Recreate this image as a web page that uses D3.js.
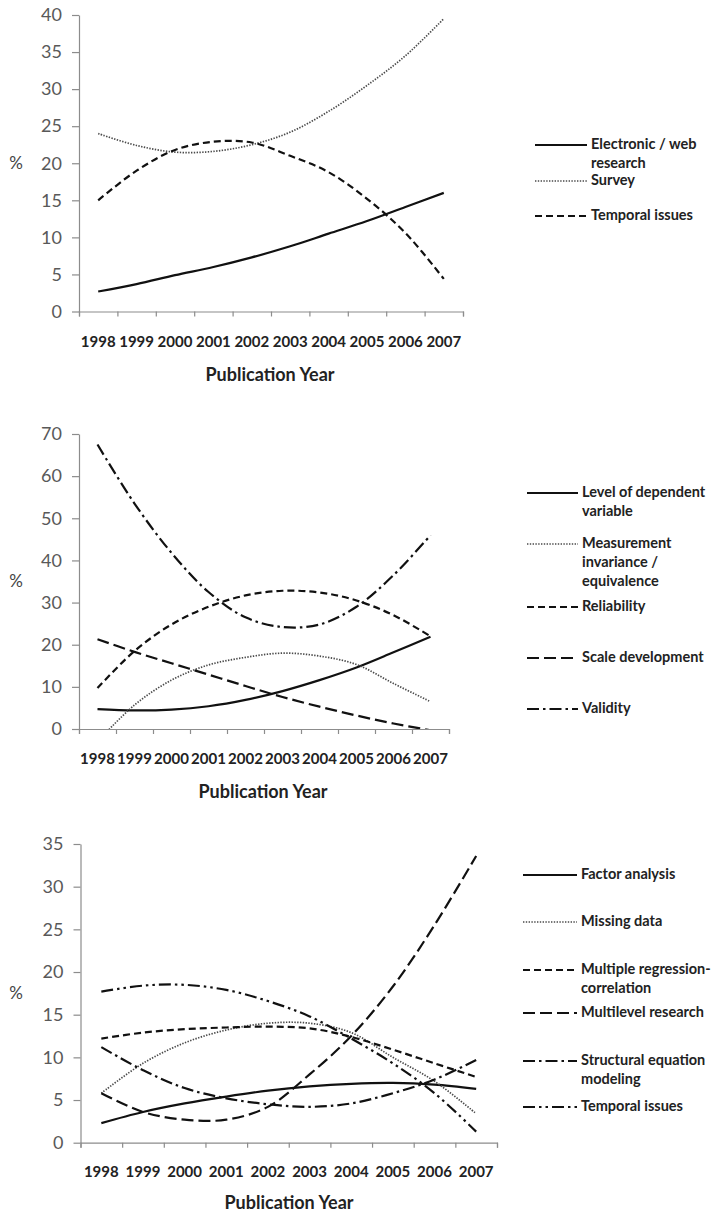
<!DOCTYPE html>
<html><head><meta charset="utf-8">
<script src="https://cdn.jsdelivr.net/npm/d3@7"></script>
<style>
body{margin:0;background:#fff;}
.ytick text{font-family:Lato,"Open Sans",sans-serif;font-size:18px;fill:#595959;}
.xlab text{font-family:Lato,"Noto Sans",sans-serif;font-weight:bold;font-size:15px;fill:#222;}
.leg{font-family:Lato,"Noto Sans",sans-serif;font-weight:bold;font-size:14.5px;fill:#222;}
.ttl{font-family:Lato,"Noto Sans",sans-serif;font-weight:bold;font-size:18px;fill:#222;}
.pct{font-family:Lato,"Open Sans",sans-serif;font-size:17px;fill:#444;}
</style></head>
<body>
<script>
const years = ["1998","1999","2000","2001","2002","2003","2004","2005","2006","2007"];

// Chart 1
const c1Names = ["Electronic / web\nresearch","Survey","Temporal issues"];
const c1Electronic = [2.7,3.7,4.9,6.0,7.3,8.8,10.5,12.2,14.1,16.0];
const c1Survey     = [24.0,22.4,21.5,21.6,22.5,24.2,27.0,30.5,34.5,39.5];
const c1Temporal   = [15.0,19.0,21.8,22.9,22.8,21.0,18.8,15.2,10.6,4.4];
const c1Ticks = [0,5,10,15,20,25,30,35,40];

// Chart 2
const c2Names = ["Level of dependent\nvariable","Measurement\ninvariance /\nequivalence","Reliability","Scale development","Validity"];
const c2Level       = [4.7,4.4,4.6,5.4,6.9,9.0,11.6,14.6,18.2,21.9];
const c2Measurement = [-3.0,5.7,11.6,15.2,17.0,18.0,17.3,15.3,10.8,6.5];
const c2Reliability = [9.7,18.5,24.8,29.0,31.7,32.8,32.4,30.5,27.0,22.0];
const c2Scale       = [21.3,18.3,15.6,12.9,10.2,7.6,5.3,3.2,1.3,-0.3];
const c2Validity    = [67.5,53.5,41.8,32.5,26.5,24.2,24.8,29.0,36.5,46.0];
const c2Ticks = [0,10,20,30,40,50,60,70];

// Chart 3
const c3Names = ["Factor analysis","Missing data","Multiple regression-\ncorrelation","Multilevel research","Structural equation\nmodeling","Temporal issues"];
const c3Factor     = [2.3,3.6,4.6,5.4,6.1,6.6,6.9,7.0,6.8,6.3];
const c3Missing    = [5.8,9.3,11.7,13.2,14.0,14.0,12.9,10.0,7.2,3.4];
const c3Regression = [12.2,12.9,13.3,13.5,13.6,13.4,12.4,10.9,9.3,7.7];
const c3Multilevel = [5.8,3.6,2.7,2.7,4.2,8.0,12.5,18.3,25.5,33.6];
const c3SEM        = [11.2,8.5,6.4,5.2,4.5,4.2,4.6,5.8,7.4,9.7];
const c3Temporal   = [17.7,18.4,18.5,17.9,16.6,14.8,12.2,9.3,5.8,1.3];
const c3Ticks = [0,5,10,15,20,25,30,35];

// line styles
const ST = {
  solid:  {dash:null, w:2.2, c:"#111"},
  dotted: {dash:"1.4,1.4", w:1.7, c:"#4a4a4a"},
  short:  {dash:"7,4", w:2.2, c:"#111"},
  long:   {dash:"12,5", w:2.2, c:"#111"},
  dashdot:{dash:"12,4,2.5,4", w:2.2, c:"#111"},
  dashdotdot:{dash:"12,4,2.5,4,2.5,4", w:2.2, c:"#111"}
};

const svg = d3.select("body").append("svg").attr("width",715).attr("height",1218);
let clipId = 0;

function drawChart(cfg){
  const g = svg.append("g");
  const x = d3.scaleBand().domain(years).range([cfg.x0,cfg.x1]);
  const xi = d3.scaleLinear().domain([0,years.length]).range([cfg.x0,cfg.x1]);
  const y = d3.scaleLinear().domain([0,d3.max(cfg.ticks)]).range([cfg.yb,cfg.yt]);

  // y axis
  const ya = g.append("g").attr("class","ytick").attr("transform",`translate(${cfg.x0},0)`)
    .call(d3.axisLeft(y).tickValues(cfg.ticks).tickSize(7).tickPadding(10).tickSizeOuter(0));
  ya.selectAll("path,line").attr("stroke","#8c8c8c").attr("stroke-width",1.2);

  // x axis line + boundary ticks
  const xa = g.append("g").attr("transform",`translate(0,${cfg.yb})`)
    .call(d3.axisBottom(xi).ticks(years.length).tickSize(5).tickFormat("").tickSizeOuter(5));
  xa.selectAll("path,line").attr("stroke","#8c8c8c").attr("stroke-width",1.2);

  // x labels
  const xl = g.append("g").attr("class","xlab").attr("transform",`translate(0,${cfg.yb})`)
    .call(d3.axisBottom(x).tickSize(0).tickPadding(cfg.labPad));
  xl.select(".domain").remove();
  xl.selectAll("text").attr("dy","0.32em").attr("dominant-baseline","middle");

  // axis title
  g.append("text").attr("class","ttl").attr("x",cfg.titleX).attr("y",cfg.yb+cfg.titleOff)
    .attr("text-anchor","middle").attr("dominant-baseline","middle").text("Publication Year");
  g.append("text").attr("class","pct").attr("x",16).attr("y",cfg.pctY)
    .attr("text-anchor","middle").attr("dominant-baseline","middle").text("%");

  // clip
  const id = "clip"+(clipId++);
  g.append("clipPath").attr("id",id).append("rect")
    .attr("x",cfg.x0).attr("y",cfg.yt-3).attr("width",cfg.x1-cfg.x0+4).attr("height",cfg.yb-cfg.yt+3);

  const line = d3.line().x((d,i)=>x(years[i])+x.bandwidth()/2).y(d=>y(d)).curve(d3.curveCatmullRom.alpha(0.5));
  const lg = g.append("g").attr("clip-path",`url(#${id})`);
  cfg.series.forEach(s=>{
    const st = ST[s.style];
    lg.append("path").attr("d",line(s.values)).attr("fill","none")
      .attr("stroke",st.c).attr("stroke-width",st.w).attr("stroke-dasharray",st.dash)
      .attr("stroke-linecap","butt");
  });

  // legend
  cfg.series.forEach((s,i)=>{
    const st = ST[s.style];
    const ly = cfg.legY[i];
    g.append("line").attr("x1",cfg.lx0).attr("x2",cfg.lx1).attr("y1",ly).attr("y2",ly)
      .attr("stroke",st.c).attr("stroke-width",st.w).attr("stroke-dasharray",st.dash);
    const t = g.append("text").attr("class","leg").attr("x",cfg.lx1+4).attr("y",ly)
      .attr("dominant-baseline","middle");
    s.name.split("\n").forEach((ln,k)=>{
      t.append("tspan").attr("x",cfg.lx1+4).attr("dy",k===0?0:19).text(ln);
    });
  });
}

drawChart({
  x0:79,x1:463,yt:15,yb:311.5,ticks:c1Ticks,labPad:27,titleX:270,titleOff:65,pctY:165,
  lx0:535,lx1:587,legY:[145,181,216],
  series:[
    {name:c1Names[0],values:c1Electronic,style:"solid"},
    {name:c1Names[1],values:c1Survey,style:"dotted"},
    {name:c1Names[2],values:c1Temporal,style:"short"}
  ]
});

drawChart({
  x0:79,x1:449,yt:434,yb:729,ticks:c2Ticks,labPad:26,titleX:263,titleOff:64,pctY:583,
  lx0:527,lx1:578,legY:[493,544,607,658,709],
  series:[
    {name:c2Names[0],values:c2Level,style:"solid"},
    {name:c2Names[1],values:c2Measurement,style:"dotted"},
    {name:c2Names[2],values:c2Reliability,style:"short"},
    {name:c2Names[3],values:c2Scale,style:"long"},
    {name:c2Names[4],values:c2Validity,style:"dashdot"}
  ]
});

drawChart({
  x0:80.5,x1:497,yt:844,yb:1142.7,ticks:c3Ticks,labPad:26,titleX:289,titleOff:62,pctY:995,
  lx0:523,lx1:577,legY:[875,922,970,1013,1061,1107],
  series:[
    {name:c3Names[0],values:c3Factor,style:"solid"},
    {name:c3Names[1],values:c3Missing,style:"dotted"},
    {name:c3Names[2],values:c3Regression,style:"short"},
    {name:c3Names[3],values:c3Multilevel,style:"long"},
    {name:c3Names[4],values:c3SEM,style:"dashdot"},
    {name:c3Names[5],values:c3Temporal,style:"dashdotdot"}
  ]
});
</script>
</body></html>
